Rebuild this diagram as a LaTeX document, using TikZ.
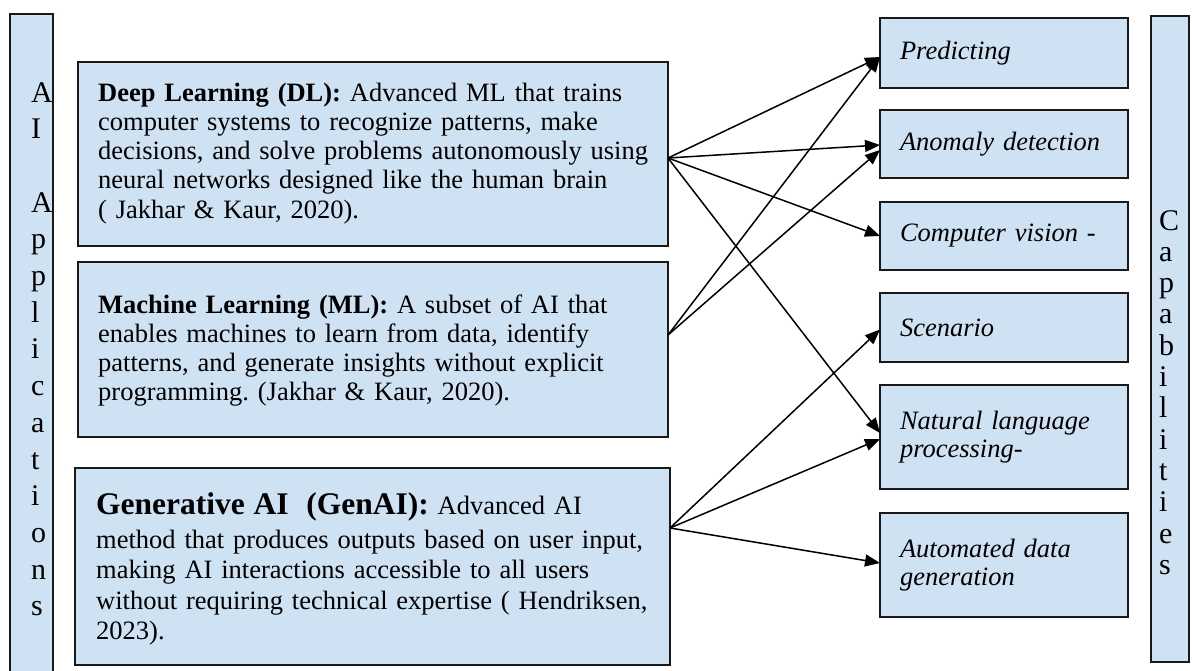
\documentclass[tikz,border=0pt]{standalone}
\usepackage{fontspec}
\setmainfont{Liberation Serif}
\usetikzlibrary{arrows.meta}
\definecolor{boxblue}{RGB}{207,226,243}
\definecolor{edge}{RGB}{25,25,25}
\frenchspacing
\begin{document}
\begin{tikzpicture}[x=1pt,y=-1pt,
  panel/.style={draw=edge, line width=1.6pt, fill=boxblue, rectangle,
    anchor=north west, inner sep=0pt, outer sep=0pt},
  body/.style={anchor=base west, inner sep=0pt, text width=#1, align=left,
    font=\fontsize{26.5}{29.3}\selectfont},
  letters/.style={anchor=base west, inner sep=0pt, text width=30pt, align=left,
    font=\fontsize{30}{#1}\selectfont},
  capbox/.style={panel, minimum width=248pt, text width=208pt, inner xsep=20pt,
    align=left, font=\fontsize{26.5}{28}\selectfont\itshape},
  link/.style={draw=black, line width=1.5pt, -{Triangle[length=15pt,width=12pt]}},
]
\useasboundingbox (0,0) rectangle (1192,670);
\fill[white] (0,0) rectangle (1192,670);

% side bars with stacked letters
\node[panel, minimum width=43pt, minimum height=680pt] (appbar) at (10,14) {};
\node[letters=36.7pt] (applabel) at (31,102)
  {A\\I\\\mbox{}\\A\\p\\p\\l\\i\\c\\a\\t\\i\\o\\n\\s};
\node[panel, minimum width=38pt, minimum height=646pt] (capbar) at (1151,16) {};
\node[letters=31.3pt] (caplabel) at (1159,230)
  {C\\a\\p\\a\\b\\i\\l\\i\\t\\i\\e\\s};

% application boxes
\node[panel, minimum width=590pt, minimum height=184pt] (dl) at (78,62) {};
\node[body=575pt] (dltext) at (98,101)
  {\textbf{Deep Learning (DL):} Advanced ML that trains\\
   computer systems to recognize patterns, make\\
   decisions, and solve problems autonomously using\\
   neural networks designed like the human brain\\
   ( Jakhar \& Kaur, 2020).};

\node[panel, minimum width=590pt, minimum height=175pt] (ml) at (78,262) {};
\node[body=575pt] (mltext) at (98,313)
  {\textbf{Machine Learning (ML):} A subset of AI that\\
   enables machines to learn from data, identify\\
   patterns, and generate insights without explicit\\
   programming. (Jakhar \& Kaur, 2020).};

\node[panel, minimum width=595pt, minimum height=197pt] (gen) at (75,468) {};
\node[body=575pt] (gentext) at (96,514)
  {{\fontsize{31.5}{36}\selectfont\bfseries Generative AI\ \ (GenAI):} Advanced AI\\[4.7pt]
   method that produces outputs based on user input,\\[1.2pt]
   making AI interactions accessible to all users\\[1.2pt]
   without requiring technical expertise ( Hendriksen,\\[1.2pt]
   2023).};

% capability boxes
\node[capbox, minimum height=70pt] (pred) at (880,18) {Predicting};
\node[capbox, minimum height=68pt] (anom) at (880,110) {Anomaly detection};
\node[capbox, minimum height=68pt] (cv) at (880,202) {Computer vision -};
\node[capbox, minimum height=69pt] (scen) at (880,293) {Scenario};
\node[capbox, minimum height=104pt] (nlp) at (880,385) {Natural language\\processing-};
\node[capbox, minimum height=104pt] (auto) at (880,513) {Automated data\\generation};

% connectors
\draw[link] ([yshift=-4pt]dl.east) -- ([yshift=-4pt]pred.west);
\draw[link] ([yshift=-4pt]dl.east) -- ([yshift=-1pt]anom.west);
\draw[link] ([yshift=-4pt]dl.east) -- (cv.west);
\draw[link] ([yshift=-4pt]dl.east) -- ([yshift=4pt]nlp.west);
\draw[link] ([yshift=14.5pt]ml.east) -- ([yshift=-4pt]pred.west);
\draw[link] ([yshift=14.5pt]ml.east) -- ([yshift=-6pt]anom.west);
\draw[link] ([yshift=38.5pt]gen.east) -- ([yshift=-2pt]scen.west);
\draw[link] ([yshift=38.5pt]gen.east) -- ([yshift=-2pt]nlp.west);
\draw[link] ([yshift=38.5pt]gen.east) -- ([yshift=2pt]auto.west);
\end{tikzpicture}
\end{document}
